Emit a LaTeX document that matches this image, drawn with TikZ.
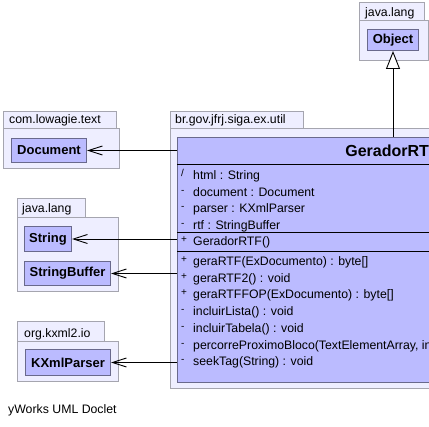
\documentclass[tikz,border=0pt]{standalone}
\usepackage{fontspec}
\setmainfont{Liberation Sans}
\usetikzlibrary{positioning,arrows.meta}
\definecolor{pkgfill}{RGB}{238,238,255}
\definecolor{pkgline}{RGB}{165,165,175}
\definecolor{clsfill}{RGB}{187,187,255}
\definecolor{clsline}{RGB}{105,105,140}
\tikzset{
	every node/.style={font=\fontsize{12.3}{14}\selectfont, inner sep=0pt},
	pkgbox/.style={draw=pkgline, fill=pkgfill, line width=1pt},
	pkglabel/.style={anchor=base west},
	clsbox/.style={draw=clsline, fill=clsfill, line width=1pt, anchor=north west,
		font=\fontsize{13}{15}\selectfont\bfseries},
	member/.style={anchor=base west},
	dep/.style={-{Straight Barb[length=14pt,width=9pt]}, line width=0.9pt},
	gen/.style={-{Triangle[open,length=18pt,width=14pt,fill=white]}, line width=0.9pt},
}
\begin{document}
\begin{tikzpicture}[x=1pt,y=-1pt]
        \clip (0,0) rectangle (429,427);

        % packages
        \draw[pkgbox] (3,112) rectangle (116,129);
        \draw[pkgbox] (3,129) rectangle (119,169);
        \node[pkglabel] (lowagie) at (9,124) {com.lowagie.text};

        \draw[pkgbox] (17,199) rectangle (85,218);
        \draw[pkgbox] (17,218) rectangle (118,292);
        \node[pkglabel] (javalang) at (22,213) {java.lang};

        \draw[pkgbox] (17,322) rectangle (104,342);
        \draw[pkgbox] (17,342) rectangle (118,382);
        \node[pkglabel] (kxml) at (24,338) {org.kxml2.io};

        \draw[pkgbox] (170,112) rectangle (303,129);
        \draw[pkgbox] (170,129) rectangle (640,389);
        \node[pkglabel] (siga) at (175,124) {br.gov.jfrj.siga.ex.util};

        \draw[pkgbox] (359,3) rectangle (424,21);
        \draw[pkgbox] (359,21) rectangle (428,61);
        \node[pkglabel] (javalangtop) at (365,17) {java.lang};

        % classes
        \node[clsbox, minimum width=75, minimum height=24] (document) at (11,138) {Document};
        \node[clsbox, minimum width=47, minimum height=25] (string) at (24,226) {String};
        \node[clsbox, minimum width=86, minimum height=24] (stringbuffer) at (24,261) {StringBuffer};
        \node[clsbox, minimum width=85, minimum height=26] (kxmlparser) at (25,349) {KXmlParser};
        \node[clsbox, minimum width=51, minimum height=21] (object) at (367,29) {Object};

        \node[clsbox, minimum width=430, minimum height=245] (gerador) at (177,137) {};
        \node[anchor=base, font=\fontsize{16}{18}\selectfont\bfseries] (geradortitle) at (392,157) {GeradorRTF};
        \draw[line width=1pt] (gerador.west |- 0,164.5) -- (gerador.east |- 0,164.5);
        \draw[line width=1pt] (gerador.west |- 0,233) -- (gerador.east |- 0,233);
        \draw[line width=1pt] (gerador.west |- 0,251.5) -- (gerador.east |- 0,251.5);

        \foreach \vis/\txt/\y in {
                {/}/{html : String}/180,
                -/{document : Document}/196.5,
                -/{parser : KXmlParser}/213,
                -/{rtf : StringBuffer}/229.5,
                +/{GeradorRTF()}/246,
                +/{geraRTF(ExDocumento) : byte[]}/265.5,
                +/{geraRTF2() : void}/282.3,
                +/{geraRTFFOP(ExDocumento) : byte[]}/299,
                -/{incluirLista() : void}/315.8,
                -/{incluirTabela() : void}/332.5,
                -/{percorreProximoBloco(TextElementArray, int)}/349.3,
                -/{seekTag(String) : void}/366
            } {
                \node[member, font=\fontsize{10}{12}\selectfont] at (181,\y-3) {\vis};
                \node[member] at (193,\y) {\txt};
            }

        % relations
        \draw[gen] (gerador.north -| object.south) -- (object.south);
        \draw[dep] (gerador.west |- document.east) -- (document.east);
        \draw[dep] (gerador.west |- string.east) -- (string.east);
        \draw[dep] (gerador.west |- stringbuffer.east) -- (stringbuffer.east);
        \draw[dep] (gerador.west |- kxmlparser.east) -- (kxmlparser.east);

        \node[anchor=base west] (doclet) at (8,414) {yWorks UML Doclet};
    \end{tikzpicture}
\end{document}
